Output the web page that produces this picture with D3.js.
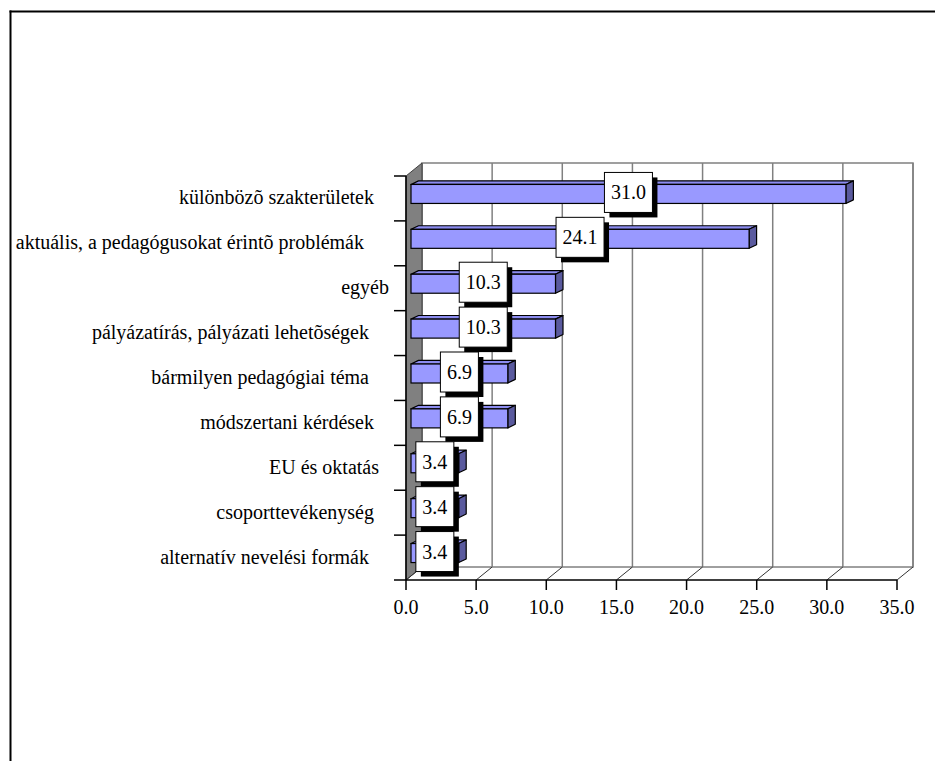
<!DOCTYPE html>
<html>
<head>
<meta charset="utf-8">
<script src="https://cdn.jsdelivr.net/npm/d3@7"></script>
<style>
    html, body { margin: 0; padding: 0; background: #fff; overflow: hidden; }
    svg { display: block; }
    svg text { white-space: pre; }
</style>
</head>
<body>
<svg id="chart"></svg>
<script>
// category names (trailing spaces kept as in the source sheet)
const categories = [
    "különbözõ szakterületek   ",
    "aktuális, a pedagógusokat érintõ problémák     ",
    "egyéb",
    "pályázatírás, pályázati lehetõségek    ",
    "bármilyen pedagógiai téma    ",
    "módszertani kérdések   ",
    "EU és oktatás  ",
    "csoporttevékenység   ",
    "alternatív nevelési formák    "
];
const values = [31.0, 24.1, 10.3, 10.3, 6.9, 6.9, 3.4, 3.4, 3.4];
const tickValues = [0, 5, 10, 15, 20, 25, 30, 35];

const width = 935, height = 761;
const fontFamily = "'Liberation Serif', 'Times New Roman', Tinos, 'DejaVu Serif', serif";

const svg = d3.select("#chart")
    .attr("width", width)
    .attr("height", height)
    .attr("font-family", fontFamily);

// outer chart-area border (only left and top edges are in view)
svg.append("line")
    .attr("x1", 10.5).attr("x2", 10.5)
    .attr("y1", 10.5).attr("y2", height)
    .attr("stroke", "#000").attr("stroke-width", 2);
svg.append("line")
    .attr("x1", 9.5).attr("x2", width)
    .attr("y1", 11.5).attr("y2", 11.5)
    .attr("stroke", "#000").attr("stroke-width", 2);

// 3D depth of the walls
const depthX = 16, depthY = 13;

const x = d3.scaleLinear().domain([0, 35]).range([406, 897]);   // front plane
const xBar = d3.scaleLinear().domain([0, 35]).range([411, 902]); // bars sit a bit inside
const y = d3.scaleBand().domain(categories).range([176, 580]).paddingInner(0).paddingOuter(0);

const plotTop = y.range()[0], plotBottom = y.range()[1];

// back wall
svg.append("rect")
    .attr("x", x(0) + depthX).attr("y", plotTop - depthY)
    .attr("width", x(35) - x(0)).attr("height", plotBottom - plotTop)
    .attr("fill", "#fff")
    .attr("stroke", "#808080")
    .attr("stroke-width", 1.5);

// back gridlines
svg.append("g").selectAll("line")
    .data(tickValues)
    .join("line")
    .attr("x1", d => x(d) + depthX).attr("x2", d => x(d) + depthX)
    .attr("y1", plotTop - depthY).attr("y2", plotBottom - depthY)
    .attr("stroke", "#808080")
    .attr("stroke-width", 1.5);

// left side wall (gray)
svg.append("polygon")
    .attr("points", [
        [x(0), plotTop], [x(0) + depthX, plotTop - depthY],
        [x(0) + depthX, plotBottom - depthY], [x(0), plotBottom]
    ].join(" "))
    .attr("fill", "#808080")
    .attr("stroke", "#404040")
    .attr("stroke-width", 1);

// floor diagonals from front ticks to the back wall
svg.append("g").selectAll("line")
    .data(tickValues)
    .join("line")
    .attr("x1", d => x(d)).attr("x2", d => x(d) + depthX)
    .attr("y1", plotBottom).attr("y2", plotBottom - depthY)
    .attr("stroke", "#333")
    .attr("stroke-width", 1);

// front value axis
svg.append("line")
    .attr("x1", 394).attr("x2", x(35))
    .attr("y1", plotBottom).attr("y2", plotBottom)
    .attr("stroke", "#000").attr("stroke-width", 1.5);

svg.append("g").selectAll("line")
    .data(tickValues)
    .join("line")
    .attr("x1", d => x(d)).attr("x2", d => x(d))
    .attr("y1", plotBottom).attr("y2", plotBottom + 10)
    .attr("stroke", "#000").attr("stroke-width", 1.5);

svg.append("g").selectAll("text")
    .data(tickValues)
    .join("text")
    .attr("x", d => x(d))
    .attr("y", plotBottom + 34)
    .attr("text-anchor", "middle")
    .attr("font-size", 20)
    .text(d => d.toFixed(1));

// category axis
svg.append("line")
    .attr("x1", x(0)).attr("x2", x(0))
    .attr("y1", plotTop).attr("y2", plotBottom)
    .attr("stroke", "#000").attr("stroke-width", 1.5);

const boundaries = categories.map(c => y(c));
svg.append("g").selectAll("line")
    .data(boundaries)
    .join("line")
    .attr("x1", x(0) - 12).attr("x2", x(0))
    .attr("y1", d => d).attr("y2", d => d)
    .attr("stroke", "#000").attr("stroke-width", 1.5);

svg.append("g").selectAll("text")
    .data(categories)
    .join("text")
    .attr("x", 389)
    .attr("y", d => y(d) + y.bandwidth() / 2 + 6)
    .attr("text-anchor", "end")
    .attr("font-size", 20)
    .text(d => d);

// bars (3D boxes)
const barH = 19, bdx = 7.5, bdy = 3.6;
const barTop = d => y(d) + y.bandwidth() / 2 - 14;

const bars = svg.append("g").selectAll("g")
    .data(categories.map((c, i) => ({ cat: c, value: values[i] })))
    .join("g");

bars.append("polygon") // top face
    .attr("points", d => {
        const x0 = xBar(0), x1 = xBar(d.value), t = barTop(d.cat);
        return [[x0, t], [x1, t], [x1 + bdx, t - bdy], [x0 + bdx, t - bdy]].join(" ");
    })
    .attr("fill", "#8c8cf0")
    .attr("stroke", "#000").attr("stroke-width", 1.2).attr("stroke-linejoin", "round");

bars.append("polygon") // end face
    .attr("points", d => {
        const x1 = xBar(d.value), t = barTop(d.cat);
        return [[x1, t], [x1 + bdx, t - bdy], [x1 + bdx, t + barH - bdy], [x1, t + barH]].join(" ");
    })
    .attr("fill", "#5a5a9e")
    .attr("stroke", "#000").attr("stroke-width", 1.2).attr("stroke-linejoin", "round");

bars.append("rect") // front face
    .attr("x", xBar(0))
    .attr("y", d => barTop(d.cat))
    .attr("width", d => xBar(d.value) - xBar(0))
    .attr("height", barH)
    .attr("fill", "#9999ff")
    .attr("stroke", "#000").attr("stroke-width", 1.2);

// data labels: white boxes with black drop shadow
const labels = svg.append("g").selectAll("g")
    .data(categories.map((c, i) => ({ cat: c, value: values[i] })))
    .join("g");

labels.each(function (d) {
    const g = d3.select(this);
    const cx = (xBar(0) + xBar(d.value)) / 2;
    const cy = barTop(d.cat) + barH / 2 - 1.5;
    const txt = g.append("text")
        .attr("font-size", 20)
        .text(d.value.toFixed(1));
    const w = txt.node().getComputedTextLength() + 13, h = 40;
    g.insert("rect", "text")
        .attr("x", cx - w / 2 + 5).attr("y", cy - h / 2 + 5)
        .attr("width", w).attr("height", h)
        .attr("fill", "#000");
    g.insert("rect", "text")
        .attr("x", cx - w / 2).attr("y", cy - h / 2)
        .attr("width", w).attr("height", h)
        .attr("fill", "#fff")
        .attr("stroke", "#000").attr("stroke-width", 1);
    txt.attr("x", cx).attr("y", cy + 7).attr("text-anchor", "middle");
});
</script>
</body>
</html>
